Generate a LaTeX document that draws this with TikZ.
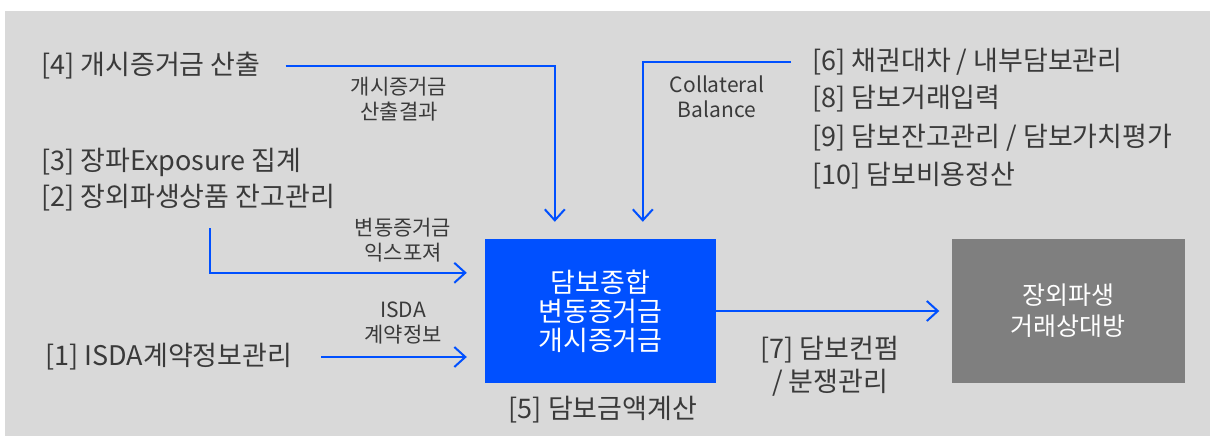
\documentclass[tikz,border=0pt]{standalone}
\usepackage{fontspec}
\setmainfont{Noto Sans CJK KR}
\usetikzlibrary{positioning, calc, arrows.meta}
\definecolor{bg}{HTML}{D9D9D9}
\definecolor{mainblue}{HTML}{0050FF}
\definecolor{cpgray}{HTML}{7F7F7F}
\definecolor{txt}{HTML}{3A3A3A}
\tikzstyle{Arrow} = [
mainblue,
line width=2pt,
-{Straight Barb[length=11pt, width=20pt, line width=2pt]}]
\tikzstyle{Item} = [anchor=west, inner sep=0pt, text=txt,
font=\fontsize{27}{33}\selectfont]
\tikzstyle{Flow} = [align=center, inner sep=0pt, text=txt,
font=\fontsize{21}{25}\selectfont]
\tikzstyle{Box} = [minimum width=231pt, minimum height=144pt,
align=center, text=white, font=\fontsize{27}{29}\selectfont]

\begin{document}
\begin{tikzpicture}[x=1pt, y=-1pt]
    \fill[white] (0,0) rectangle (1216,436);
    \fill[bg] (5,11) rectangle (1210,436);
    \useasboundingbox (0,0) rectangle (1216,436);

    \node[Item] (4) at (41,66) {[4] 개시증거금 산출};
    \node[Item] (3) at (41,162) {[3] 장파Exposure 집계};
    \node[Item] (2) at (41,198) {[2] 장외파생상품 잔고관리};
    \node[Item] (1) at (45,357) {[1] ISDA계약정보관리};
    \node[Item] (6) at (812,62) {[6] 채권대차 / 내부담보관리};
    \node[Item] (8) at (812,99) {[8] 담보거래입력};
    \node[Item] (9) at (812,138) {[9] 담보잔고관리 / 담보가치평가};
    \node[Item] (10) at (812,176) {[10] 담보비용정산};

    \node[Box, fill=mainblue] (calc) at (600.5,311) {담보종합\\변동증거금\\개시증거금};
    \node[Box, fill=cpgray, minimum width=233pt, font=\fontsize{25}{31}\selectfont] (cpty) at (1068,311) {장외파생\\거래상대방};
    \node[Item, anchor=center] (5) at (603,410) {[5] 담보금액계산};
    \node[Item, anchor=center, align=center] (7) at (830,366) {[7] 담보컨펌\\/ 분쟁관리};

    \node[Flow] (im) at (399,99) {개시증거금\\산출결과};
    \node[Flow] (cb) at (717,97) {Collateral\\Balance};
    \node[Flow] (vm) at (403,240) {변동증거금\\익스포져};
    \node[Flow] (isda) at (403,323) {ISDA\\계약정보};

    \coordinate (2src) at (210,228);

    \draw[Arrow, shorten <=25pt, shorten >=17pt] (4.east) -| ($(calc.north west)+(70,0)$);
    \draw[Arrow, shorten <=21pt, shorten >=17pt] (6.west) -| ($(calc.north west)+(158,0)$);
    \draw[Arrow, shorten >=18pt] (2src) |- ($(calc.north west)+(0,34)$);
    \draw[Arrow, shorten <=29pt, shorten >=18pt] (1.east) -- (1.east -| calc.west);
    \draw[Arrow, shorten >=12pt] (calc.east) -- (cpty.west);
\end{tikzpicture}
\end{document}
